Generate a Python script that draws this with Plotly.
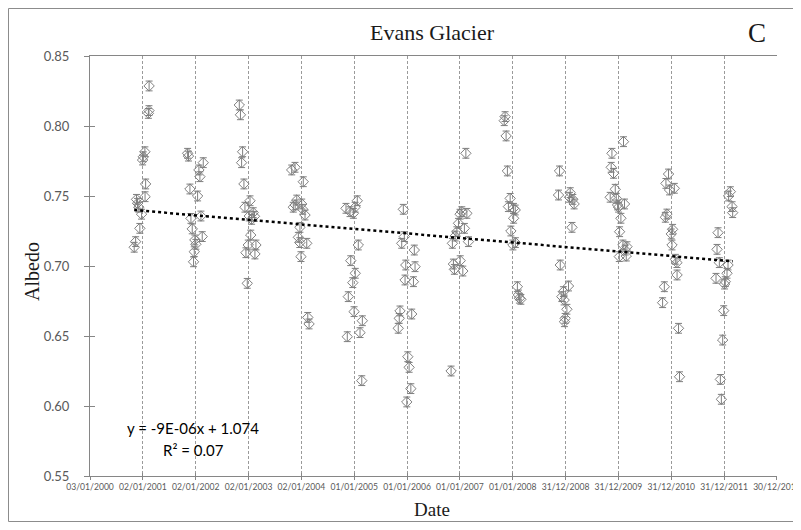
import numpy as np
import pandas as pd
import plotly.graph_objects as go

# ---------------- data ----------------
DATES_2001 = ["2001-02-14", "2001-02-13", "2001-02-09", "2001-01-16", "2001-01-05", "2000-12-31",
              "2001-01-21", "2001-01-17", "2000-11-19", "2000-11-26", "2000-12-05", "2000-12-24",
              "2000-12-12", "2000-11-13", "2000-11-03"]
ALB_2001 = [0.8286, 0.811, 0.809, 0.7816, 0.778, 0.7757, 0.7586, 0.7495, 0.7476, 0.7448, 0.742,
            0.737, 0.7269, 0.7174, 0.7134]

DATES_2002 = ["2001-11-07", "2001-11-13", "2002-01-24", "2002-02-23", "2002-01-31", "2001-11-23",
              "2002-01-15", "2001-11-30", "2002-02-07", "2001-12-09", "2001-12-27", "2002-02-16",
              "2002-01-03", "2001-12-23", "2001-12-18"]
ALB_2002 = [0.7805, 0.7785, 0.7686, 0.7738, 0.7638, 0.755, 0.75, 0.734, 0.7357, 0.7265, 0.7186,
            0.721, 0.7155, 0.7102, 0.703]

DATES_2003 = ["2002-10-30", "2002-11-07", "2002-11-22", "2002-11-15", "2002-12-01", "2003-01-12",
              "2002-12-08", "2003-01-07", "2003-02-03", "2003-02-12", "2003-01-23", "2003-01-17",
              "2002-12-31", "2003-02-22", "2002-12-15", "2003-02-15", "2002-12-24"]
ALB_2003 = [0.815, 0.808, 0.7816, 0.7738, 0.7586, 0.7466, 0.742, 0.7357, 0.7381, 0.7355, 0.7333,
            0.7221, 0.715, 0.715, 0.7095, 0.7086, 0.6876]

DATES_2004 = ["2003-10-27", "2003-11-19", "2004-01-15", "2003-11-07", "2003-11-20", "2003-12-01",
              "2004-01-04", "2004-01-11", "2004-01-27", "2003-12-23", "2003-12-12", "2003-12-22",
              "2004-02-08", "2003-12-30", "2004-02-15", "2004-02-24"]
ALB_2004 = [0.7686, 0.7705, 0.7602, 0.742, 0.7436, 0.7471, 0.7443, 0.7405, 0.7364, 0.7276, 0.7205,
            0.7167, 0.7162, 0.7067, 0.6633, 0.6586]

DATES_2005 = ["2004-11-05", "2004-12-03", "2004-12-26", "2005-01-07", "2005-01-22", "2005-01-29",
              "2004-12-08", "2005-01-08", "2004-12-22", "2004-11-21", "2004-12-31", "2005-02-26",
              "2005-02-10", "2004-11-14", "2005-02-22"]
ALB_2005 = [0.7412, 0.7388, 0.7376, 0.742, 0.7466, 0.715, 0.7038, 0.6948, 0.6881, 0.6781, 0.6674,
            0.6609, 0.6524, 0.6495, 0.6181]

DATES_2006 = ["2005-12-06", "2005-12-13", "2005-11-25", "2006-02-20", "2005-12-23", "2006-02-25",
              "2005-12-18", "2006-02-14", "2005-11-13", "2005-11-08", "2005-11-01", "2006-02-02",
              "2006-01-06", "2006-01-15", "2006-01-27", "2005-12-30"]
ALB_2006 = [0.7405, 0.721, 0.7162, 0.7114, 0.7007, 0.6995, 0.69, 0.6888, 0.6679, 0.6626, 0.6555,
            0.6657, 0.6352, 0.6276, 0.6124, 0.6029]

DATES_2007 = ["2007-02-11", "2007-01-14", "2007-02-18", "2007-01-02", "2006-12-22", "2007-02-01",
              "2006-12-11", "2006-11-29", "2006-11-10", "2007-03-01", "2007-01-03", "2006-11-17",
              "2006-11-24", "2007-01-21", "2006-11-01"]
ALB_2007 = [0.7805, 0.7388, 0.7376, 0.737, 0.7305, 0.7269, 0.7245, 0.7214, 0.7162, 0.7174, 0.7038,
            0.7014, 0.6976, 0.6964, 0.625]

DATES_2008 = ["2007-11-09", "2007-11-03", "2007-11-16", "2007-11-25", "2007-12-14", "2007-12-02",
              "2008-01-06", "2008-01-18", "2008-01-07", "2007-12-19", "2008-01-19", "2008-01-02",
              "2008-02-02", "2008-02-09", "2008-02-26", "2008-02-16"]
ALB_2008 = [0.8067, 0.8038, 0.7929, 0.7679, 0.7483, 0.7424, 0.7412, 0.74, 0.7341, 0.725, 0.7167,
            0.715, 0.6852, 0.6793, 0.6762, 0.677]

DATES_2009 = ["2008-11-19", "2008-11-12", "2009-02-01", "2009-01-27", "2009-02-19", "2009-02-28",
              "2009-02-13", "2008-11-24", "2009-01-20", "2008-12-16", "2008-12-05", "2008-12-21",
              "2009-01-09", "2008-12-28", "2008-12-23"]
ALB_2009 = [0.7679, 0.7507, 0.7524, 0.7491, 0.7476, 0.7443, 0.7276, 0.7007, 0.6857, 0.6817, 0.6781,
            0.6757, 0.6691, 0.6626, 0.6602]

DATES_2010 = ["2010-02-04", "2009-11-16", "2009-11-11", "2009-11-27", "2009-12-09", "2009-11-04",
              "2009-12-16", "2009-12-25", "2010-01-01", "2010-02-11", "2010-01-17", "2010-01-08",
              "2010-01-31", "2010-02-28", "2010-02-16", "2010-01-06", "2010-02-23"]
ALB_2010 = [0.7888, 0.7805, 0.7705, 0.7662, 0.7548, 0.7491, 0.7483, 0.7436, 0.742, 0.7443, 0.7341,
            0.7245, 0.715, 0.7138, 0.7114, 0.7067, 0.7071]

DATES_2011 = ["2010-12-12", "2010-11-24", "2010-12-19", "2011-01-21", "2010-12-01", "2010-11-20",
              "2011-01-09", "2010-12-31", "2011-01-05", "2011-01-28", "2011-02-08", "2011-02-09",
              "2010-11-13", "2010-11-01", "2011-02-19", "2011-02-26"]
ALB_2011 = [0.7657, 0.759, 0.7543, 0.7555, 0.7371, 0.7348, 0.7262, 0.7229, 0.715, 0.7048, 0.7024,
            0.6936, 0.6852, 0.6738, 0.6555, 0.6209]

DATES_2012 = ["2012-02-12", "2012-01-31", "2012-02-24", "2012-02-28", "2011-11-19", "2011-11-12",
              "2011-11-28", "2012-01-27", "2012-01-20", "2011-11-05", "2012-01-08", "2012-01-03",
              "2011-12-28", "2011-12-21", "2011-12-05", "2011-12-12"]
ALB_2012 = [0.7531, 0.75, 0.7424, 0.7381, 0.7238, 0.7119, 0.7024, 0.7007, 0.6948, 0.6912, 0.6888,
            0.6871, 0.6681, 0.6471, 0.619, 0.6048]

ALBEDO_ERROR = 0.0035

TICK_LABELS = ["03/01/2000", "02/01/2001", "02/01/2002", "02/01/2003", "02/01/2004", "01/01/2005",
               "01/01/2006", "01/01/2007", "01/01/2008", "31/12/2008", "31/12/2009", "31/12/2010",
               "31/12/2011", "30/12/2012"]
Y_TICKS = [0.55, 0.60, 0.65, 0.70, 0.75, 0.80, 0.85]

EQUATION_TEXT = "y = -9E-06x + 1.074"
R2_TEXT = "R² = 0.07"

# ---------------- assemble ----------------
all_dates = (DATES_2001 + DATES_2002 + DATES_2003 + DATES_2004 + DATES_2005 + DATES_2006 +
             DATES_2007 + DATES_2008 + DATES_2009 + DATES_2010 + DATES_2011 + DATES_2012)
all_alb = (ALB_2001 + ALB_2002 + ALB_2003 + ALB_2004 + ALB_2005 + ALB_2006 +
           ALB_2007 + ALB_2008 + ALB_2009 + ALB_2010 + ALB_2011 + ALB_2012)
dates = pd.to_datetime(all_dates)
alb = np.array(all_alb)

tick_dates = pd.to_datetime(TICK_LABELS, dayfirst=True)
# tiny padding so the last tick (at the range end) is kept
x_range = [tick_dates[0] - pd.Timedelta(hours=6), tick_dates[-1] + pd.Timedelta(hours=6)]

# linear trend (least squares on day numbers)
EPOCH = pd.Timestamp("1899-12-30")
days = (dates - EPOCH).days.values.astype(float)
slope, intercept = np.polyfit(days, alb, 1)
trend_days = np.array([days.min(), days.max()])
trend_x = EPOCH + pd.to_timedelta(trend_days, unit="D")
trend_y = slope * trend_days + intercept

GREY = "#7f7f7f"
AXIS = "#868686"
LABEL = "#595959"
TXT = "#1a1a1a"

# layout geometry (figure sits inside the page body's 8px margin)
PAGE_OFF = 8
FIG_W, FIG_H = 793, 514
M_L, M_R, M_T, M_B = 82, 24, 48, 46
PW = FIG_W - M_L - M_R
PH = FIG_H - M_T - M_B


def px(xp):
    return (xp - PAGE_OFF - M_L) / PW


def py(yp):
    return (FIG_H - M_B - (yp - PAGE_OFF)) / PH


fig = go.Figure()
fig.add_trace(go.Scatter(
    x=dates, y=alb, mode="markers",
    marker=dict(symbol="diamond-open", size=8, color=GREY, line=dict(width=1, color=GREY)),
    error_y=dict(type="constant", value=ALBEDO_ERROR, color=GREY, thickness=1, width=3.5),
    showlegend=False, hoverinfo="x+y",
))
fig.add_trace(go.Scatter(
    x=trend_x, y=trend_y, mode="lines",
    line=dict(color="black", width=2.5, dash="dot"),
    showlegend=False, hoverinfo="skip",
))
# empty trace for the overlaid axes that give the "cross" tick marks
fig.add_trace(go.Scatter(x=[], y=[], xaxis="x2", yaxis="y2", showlegend=False))


def ann(text, xp, yp, size, family, color=TXT, angle=0):
    return dict(text=text, x=px(xp), y=py(yp), xref="paper", yref="paper",
                xanchor="center", yanchor="middle", textangle=angle, showarrow=False,
                font=dict(family=family, size=size, color=color))


SERIF = "Liberation Serif, serif"
SANS = "Lato, Liberation Sans, sans-serif"

fig.update_layout(
    width=FIG_W, height=FIG_H,
    margin=dict(l=M_L, r=M_R, t=M_T, b=M_B, autoexpand=False),
    paper_bgcolor="white", plot_bgcolor="white",
    xaxis=dict(
        type="date", range=x_range,
        tickvals=tick_dates, ticktext=TICK_LABELS, ticklabeloverflow="allow",
        tickfont=dict(family=SANS, size=8.6, color=LABEL),
        ticks="outside", ticklen=3, tickcolor=AXIS,
        showline=True, linecolor=AXIS, linewidth=1, mirror=True,
        showgrid=True, gridcolor="#9a9a9a", gridwidth=1, griddash="3px,2px",
        zeroline=False,
    ),
    yaxis=dict(
        range=[0.55, 0.85], tickvals=Y_TICKS, tickformat=".2f",
        tickfont=dict(family=SANS, size=13, color=LABEL),
        ticks="outside", ticklen=5, tickcolor=AXIS, ticklabelstandoff=12,
        showline=True, linecolor=AXIS, linewidth=1,
        showgrid=False, zeroline=False,
    ),
    xaxis2=dict(
        type="date", range=x_range, overlaying="x", tickvals=tick_dates,
        showticklabels=False, ticks="inside", ticklen=3, tickcolor=AXIS,
        showline=False, showgrid=False, zeroline=False,
    ),
    yaxis2=dict(
        range=[0.55, 0.85], overlaying="y", tickvals=Y_TICKS,
        showticklabels=False, ticks="inside", ticklen=5, tickcolor=AXIS,
        showline=False, showgrid=False, zeroline=False,
    ),
    shapes=[dict(type="rect", xref="paper", yref="paper",
                 x0=px(8.5), x1=px(795), y0=py(521.5), y1=py(8.5),
                 line=dict(color="#8c8c8c", width=1), fillcolor="rgba(0,0,0,0)", layer="below")],
    annotations=[
        ann("Evans Glacier", 432, 33, 22, SERIF),
        ann("C", 757, 33, 27, SERIF),
        ann("Date", 432, 509, 19, SERIF),
        ann("Albedo", 32, 272, 20, SERIF, angle=-90),
        ann(EQUATION_TEXT, 193, 428, 15, SANS, color="black"),
        ann(R2_TEXT, 193, 450, 15, SANS, color="black"),
    ],
)

fig.write_html("out.html")
